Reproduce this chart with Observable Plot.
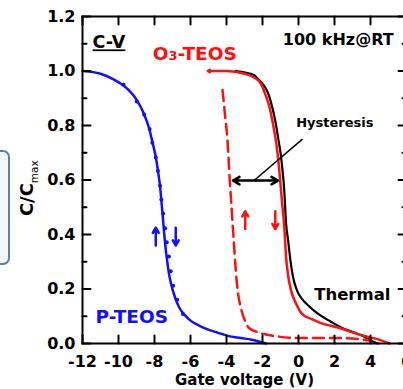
<!DOCTYPE html>
<html><head><meta charset="utf-8">
<script src="https://cdn.jsdelivr.net/npm/d3@7"></script>
<script src="https://cdn.jsdelivr.net/npm/@observablehq/plot@0.6"></script>
<style>
html,body{margin:0;padding:0;background:#fff;overflow:hidden;width:403px;height:389px;}
#wrap{position:relative;width:403px;height:389px;overflow:hidden;}
#box{position:absolute;left:-12px;top:150px;width:18px;height:111px;border:2px solid #5b7db6;border-radius:7px;background:#f3f6fb;}
#chart{position:absolute;left:0;top:0;}
</style></head><body>
<div id="wrap"><div id="box"></div><div id="chart"></div></div>
<script>
// ---- axis ticks ----
const xTicks = [-12, -10, -8, -6, -4, -2, 0, 2, 4, 6];
const yTicks = [0, 0.2, 0.4, 0.6, 0.8, 1.0, 1.2];
const yMinor = [0.1, 0.3, 0.5, 0.7, 0.9, 1.1];

// ---- P-TEOS (blue) ----
const blueX = [-12, -11.0, -10.3, -9.6, -9.0, -8.6, -8.3, -8.1, -7.93, -7.8, -7.68, -7.6, -7.52, -7.43, -7.33, -7.18, -6.98, -6.65, -6.3, -5.98, -5.5, -5.05, -4.5, -3.94, -3.2, -2.6, -1.8];
const blueY = [1.0, 0.99, 0.97, 0.94, 0.895, 0.845, 0.79, 0.735, 0.685, 0.63, 0.57, 0.51, 0.45, 0.38, 0.32, 0.25, 0.194, 0.135, 0.103, 0.083, 0.065, 0.052, 0.04, 0.028, 0.02, 0.014, 0.0];
const blueDotX = [-9.72, -8.99, -8.58, -8.27, -8.12, -7.93, -7.81, -7.69, -7.62, -7.52, -7.41, -7.32, -7.2, -7.1, -6.96, -6.74, -6.42];
const blueDotY = [0.95, 0.888, 0.84, 0.787, 0.737, 0.683, 0.633, 0.579, 0.528, 0.477, 0.423, 0.372, 0.319, 0.265, 0.212, 0.161, 0.108];

// ---- O3-TEOS (red, forward sweep solid) ----
const redX = [-5.0, -4.0, -3.0, -2.47, -2.1, -1.82, -1.62, -1.43, -1.27, -1.15, -1.06, -0.98, -0.89, -0.8, -0.69, -0.56, -0.41, -0.13, 0.15, 0.7, 1.26, 2.37, 3.49, 4.43, 5.05];
const redY = [1.0, 1.0, 0.99, 0.976, 0.955, 0.91, 0.87, 0.81, 0.75, 0.69, 0.63, 0.569, 0.5, 0.44, 0.317, 0.243, 0.194, 0.146, 0.112, 0.09, 0.075, 0.055, 0.03, 0.015, 0.0];
// ---- O3-TEOS (red, reverse sweep dashed) ----
const redDashX = [-4.22, -4.1, -3.95, -3.82, -3.72, -3.6, -3.47, -3.35, -3.2, -2.95, -2.75, -2.2, -1.36, 0, 1.0, 2.0, 3.0, 4.0];
const redDashY = [0.93, 0.85, 0.75, 0.6, 0.5, 0.38, 0.256, 0.18, 0.13, 0.08, 0.057, 0.04, 0.028, 0.02, 0.02, 0.02, 0.018, 0.01];

// ---- Thermal (black) ----
const blackX = [-3.5, -2.47, -2.25, -1.9, -1.64, -1.45, -1.27, -1.12, -0.98, -0.88, -0.8, -0.69, -0.58, -0.47, -0.3, -0.08, 0.2, 0.5, 1.0, 1.8, 2.37, 3.0, 3.49, 4.0, 4.4];
const blackY = [1.0, 0.985, 0.97, 0.945, 0.91, 0.865, 0.81, 0.75, 0.69, 0.63, 0.57, 0.44, 0.38, 0.316, 0.243, 0.194, 0.163, 0.142, 0.113, 0.08, 0.059, 0.042, 0.03, 0.012, 0.0];

// ---- sweep-direction arrows ----
const blueUp = {x: -7.93, y1: 0.36, y2: 0.425};
const blueDown = {x: -6.82, y1: 0.425, y2: 0.36};
const redUp = {x: -2.96, y1: 0.42, y2: 0.485};
const redDown = {x: -1.29, y1: 0.485, y2: 0.42};
// hysteresis annotation
const hystArrow = {x1: -3.64, x2: -1.14, y: 0.598};
const hystLeader = {x1: -2.47, y1: 0.598, x2: 0.22, y2: 0.75};

const pts = (X, Y) => X.map((x, i) => ({x, y: Y[i]}));
const F = "DejaVu Sans";
const tickShape = {draw(ctx, l) { ctx.moveTo(0, 0); ctx.lineTo(0, -l); }};
const BLUE = "#1010ff", RED = "#ff1010";

const chart = Plot.plot({
  width: 408, height: 389,
  marginLeft: 82, marginRight: 2, marginTop: 16, marginBottom: 46,
  x: {domain: [-12, 6]},
  y: {domain: [0, 1.2]},
  style: {fontFamily: F, maxWidth: "none", overflow: "visible", background: "transparent"},
  marks: [
    Plot.line(pts(blackX, blackY), {x: "x", y: "y", stroke: "black", strokeWidth: 2.2, curve: "monotone-x"}),
    Plot.line(pts(redDashX, redDashY), {x: "x", y: "y", stroke: RED, strokeWidth: 2.5, strokeDasharray: "11,6", curve: "monotone-x"}),
    Plot.line(pts(redX, redY), {x: "x", y: "y", stroke: RED, strokeWidth: 2.5, curve: "monotone-x"}),
    Plot.arrow([{x1: -4.6, x2: -5.05, y: 1.0}], {x1: "x1", x2: "x2", y1: "y", y2: "y", stroke: RED, strokeWidth: 2.2, headLength: 7}),
    Plot.line(pts(blueX, blueY), {x: "x", y: "y", stroke: BLUE, strokeWidth: 2.5, curve: "monotone-x"}),
    Plot.dot(pts(blueDotX, blueDotY), {x: "x", y: "y", r: 2, fill: BLUE, stroke: null}),
    // sweep arrows
    Plot.arrow([blueUp, blueDown], {x1: "x", x2: "x", y1: "y1", y2: "y2", stroke: BLUE, strokeWidth: 2.5, headLength: 6}),
    Plot.arrow([redUp, redDown], {x1: "x", x2: "x", y1: "y1", y2: "y2", stroke: RED, strokeWidth: 2.5, headLength: 6}),
    // hysteresis
    Plot.link([hystLeader], {x1: "x1", y1: "y1", x2: "x2", y2: "y2", stroke: "black", strokeWidth: 1.5}),
    Plot.arrow([{x1: (hystArrow.x1 + hystArrow.x2) / 2, x2: hystArrow.x1, y: hystArrow.y},
                {x1: (hystArrow.x1 + hystArrow.x2) / 2, x2: hystArrow.x2, y: hystArrow.y}],
      {x1: "x1", x2: "x2", y1: "y", y2: "y", stroke: "black", strokeWidth: 2.5, headLength: 7}),
    // frame + inward ticks
    Plot.frame({stroke: "black", strokeWidth: 2}),
    Plot.vector(xTicks, {x: d => d, y: 0, length: 8, rotate: 0, anchor: "start", shape: tickShape, stroke: "black", strokeWidth: 2}),
    Plot.vector(xTicks, {x: d => d, y: 1.2, length: 8, rotate: 180, anchor: "start", shape: tickShape, stroke: "black", strokeWidth: 2}),
    Plot.vector(yTicks, {x: -12, y: d => d, length: 8, rotate: 90, anchor: "start", shape: tickShape, stroke: "black", strokeWidth: 2}),
    Plot.vector(yMinor, {x: -12, y: d => d, length: 4, rotate: 90, anchor: "start", shape: tickShape, stroke: "black", strokeWidth: 2}),
    Plot.vector(yTicks, {x: 6, y: d => d, length: 8, rotate: 270, anchor: "start", shape: tickShape, stroke: "black", strokeWidth: 2}),
    Plot.vector(yMinor, {x: 6, y: d => d, length: 4, rotate: 270, anchor: "start", shape: tickShape, stroke: "black", strokeWidth: 2}),
    // tick labels
    Plot.axisX(xTicks, {tickSize: 0, tickPadding: 12, tickFormat: d => String(d), fontSize: 16, fontWeight: "bold", fill: "black", label: null}),
    Plot.axisY(yTicks, {tickSize: 0, tickPadding: 7, tickFormat: d => d.toFixed(1), fontSize: 16, fontWeight: "bold", fill: "black", label: null}),
    // axis titles
    Plot.text(["Gate voltage (V)"], {frameAnchor: "bottom", dy: 41, lineAnchor: "bottom", text: d => d, fontSize: 15, fontWeight: "bold", fill: "black"}),
    Plot.text(["C/Cmax"], {frameAnchor: "left", y: () => 0.57, dx: -55, rotate: -90, textAnchor: "middle", lineAnchor: "middle", text: d => d, fontSize: 18, fontWeight: "bold", fill: "black", className: "ylab"}),
    // annotations
    Plot.text(["C-V"], {x: -11.44, y: 1.083, text: d => d, textAnchor: "start", lineAnchor: "bottom", fontSize: 17.5, fontWeight: "bold", fill: "black", className: "cv"}),
    Plot.text(["O3-TEOS"], {x: -8.1, y: 1.039, text: d => d, textAnchor: "start", lineAnchor: "bottom", fontSize: 18.5, fontWeight: "bold", fill: RED, className: "o3"}),
    Plot.text(["100 kHz@RT"], {x: -0.87, y: 1.094, text: d => d, textAnchor: "start", lineAnchor: "bottom", fontSize: 16, fontWeight: "bold", fill: "black"}),
    Plot.text(["Hysteresis"], {x: -0.13, y: 0.796, text: d => d, textAnchor: "start", lineAnchor: "bottom", fontSize: 13, fontWeight: "bold", fill: "black"}),
    Plot.text(["Thermal"], {x: 0.87, y: 0.158, text: d => d, textAnchor: "start", lineAnchor: "bottom", fontSize: 16.5, fontWeight: "bold", fill: "black"}),
    Plot.text(["P-TEOS"], {x: -11.28, y: 0.077, text: d => d, textAnchor: "start", lineAnchor: "bottom", fontSize: 18.5, fontWeight: "bold", fill: BLUE})
  ]
});
document.getElementById("chart").appendChild(chart);

// rich-text touches: subscripts and underline
const o3 = chart.querySelector(".o3 text");
if (o3) o3.innerHTML = 'O<tspan font-size="13">3</tspan>-TEOS';
const yl = chart.querySelector(".ylab text");
if (yl) yl.innerHTML = 'C/C<tspan font-size="10.5" font-weight="normal" dy="5">max</tspan>';
const cv = chart.querySelector(".cv text");
if (cv) cv.style.textDecoration = "underline";
</script></body></html>
